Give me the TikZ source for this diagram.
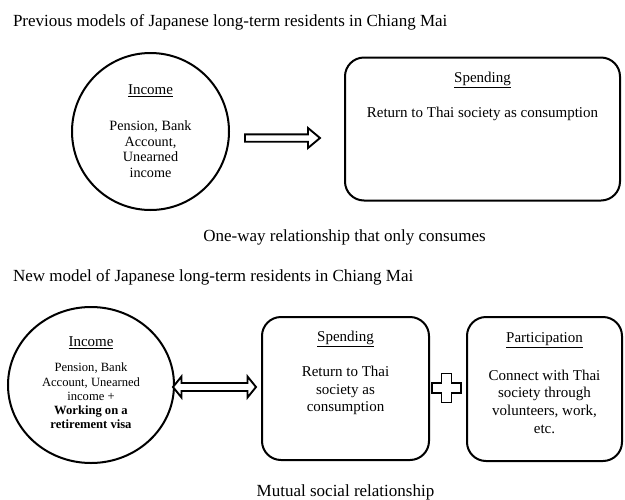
\documentclass[tikz,border=0pt]{standalone}
\usepackage{fontspec}
\setmainfont{Liberation Serif}
\usetikzlibrary{shapes.geometric}
\newcommand{\fsz}[2]{\fontsize{#1}{#2}\selectfont}

\begin{document}
\begin{tikzpicture}[x=1pt, y=-1pt, line width=2pt]
	\tikzstyle{roundbox} = [rectangle, draw, rounded corners=19pt, inner sep=0pt]
	\tikzstyle{heading} = [font=\fsz{17}{20}, anchor=base west, inner sep=0pt]
	\tikzstyle{caption} = [font=\fsz{17}{20}, anchor=base, inner sep=0pt]
	\tikzstyle{boxtitle} = [font=\fsz{15}{17}, inner sep=0pt]
	\tikzstyle{boxtext} = [font=\fsz{15}{17.5}, align=center, inner sep=0pt]
	\tikzstyle{hollow} = [line width=1.9pt, fill=white, line join=miter]

	\useasboundingbox (0,0) rectangle (625,499);

	% previous model
	\node[heading] (title-old) at (12, 26.5) {Previous models of Japanese long-term residents in Chiang Mai};
	\node[circle, draw, minimum size=157pt, inner sep=0pt] (income-old) at (150.5, 131.5) {};
	\node[roundbox, minimum width=275pt, minimum height=143pt] (spend-old) at (482.5, 129) {};

	\node[boxtitle] (income-old-h) at (150.5, 91) {\underline{Income}};
	\node[boxtext, font=\fsz{14.2}{15.7}] (income-old-t) at (150.5, 149) {Pension, Bank\\Account,\\Unearned\\income};
	\node[boxtitle] (spend-old-h) at (482.5, 79.5) {\underline{Spending}};
	\node[boxtext] (spend-old-t) at (482.5, 113.5) {Return to Thai society as consumption};

	\coordinate (flow-old) at (245, 138);
	\draw[hollow, shift={(flow-old)}] (0,-3.7) -- (63,-3.7) -- (63,-10) -- (75,0) -- (63,10) -- (63,3.7) -- (0,3.7) -- cycle;

	\node[caption] (cap-old) at (344.5, 241.7) {One-way relationship that only consumes};

	% new model
	\node[heading] (title-new) at (12, 281.5) {New model of Japanese long-term residents in Chiang Mai};
	\node[ellipse, draw, minimum width=166pt, minimum height=156pt, inner sep=0pt] (income-new) at (91, 385) {};
	\node[roundbox, minimum width=167pt, minimum height=143pt] (spend-new) at (345.5, 388.5) {};
	\node[roundbox, minimum width=155pt, minimum height=144pt] (part-new) at (544.5, 389) {};

	\node[boxtitle] (income-new-h) at (91, 342.5) {\underline{Income}};
	\node[boxtext, font=\fsz{12.6}{14.3}] (income-new-t) at (91, 396) {Pension, Bank\\Account, Unearned\\income +\\\textbf{Working on a}\\\textbf{retirement visa}};
	\node[boxtitle] (spend-new-h) at (345.5, 338.5) {\underline{Spending}};
	\node[boxtext] (spend-new-t) at (345.5, 390.5) {Return to Thai\\society as\\consumption};
	\node[boxtitle] (part-new-h) at (544.5, 340.5) {\underline{Participation}};
	\node[boxtext, font=\fsz{15}{17.7}] (part-new-t) at (544.5, 401.5) {Connect with Thai\\society through\\volunteers, work,\\etc.};

	\coordinate (flow-new) at (214.5, 387);
	\draw[hollow, shift={(flow-new)}] (-41.5,0) -- (-33,-10.5) -- (-33,-4) -- (33,-4) -- (33,-10.5) -- (41.5,0) -- (33,10.5) -- (33,4) -- (-33,4) -- (-33,10.5) -- cycle;

	\coordinate (plus) at (446.5, 388);
	\draw[hollow, shift={(plus)}] (-5,-14.5) -- (5,-14.5) -- (5,-5) -- (14.5,-5) -- (14.5,5) -- (5,5) -- (5,14.5) -- (-5,14.5) -- (-5,5) -- (-14.5,5) -- (-14.5,-5) -- (-5,-5) -- cycle;

	\node[caption] (cap-new) at (345.5, 496) {Mutual social relationship};
\end{tikzpicture}
\end{document}
